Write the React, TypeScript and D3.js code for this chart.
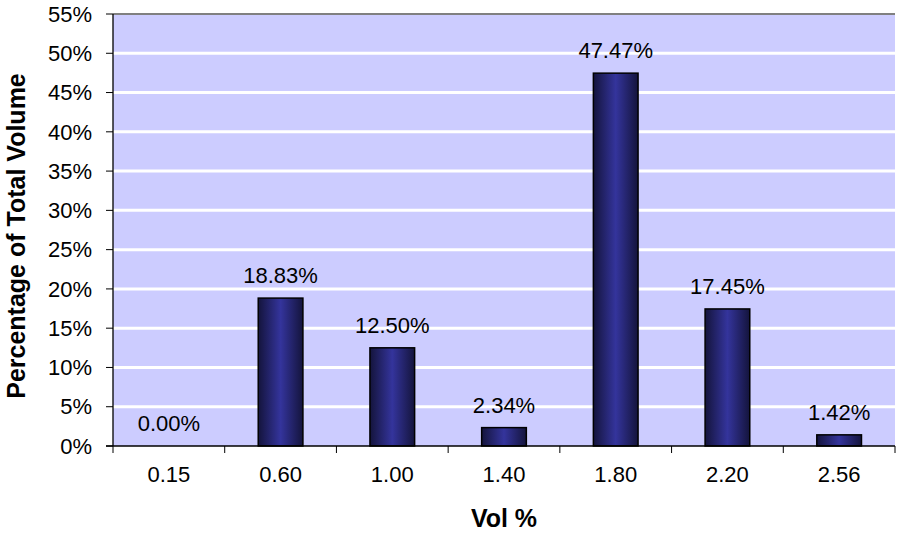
import React from "react";
import * as d3 from "d3";

const categories = ["0.15", "0.60", "1.00", "1.40", "1.80", "2.20", "2.56"];
const values = [0.0, 18.83, 12.5, 2.34, 47.47, 17.45, 1.42];
const yTicks = [0, 5, 10, 15, 20, 25, 30, 35, 40, 45, 50, 55];

const W = 897;
const H = 533;
const M = { left: 113, right: 2, top: 14, bottom: 87 };

export default function App() {
  const x = d3
    .scaleBand<string>()
    .domain(categories)
    .range([M.left, W - M.right])
    .paddingInner(0.6)
    .paddingOuter(0.3);
  const xOuter = d3.scaleBand<string>().domain(categories).range([M.left, W - M.right]);
  const y = d3.scaleLinear().domain([0, 55]).range([H - M.bottom, M.top]);
  const font = "'Liberation Sans', Arial, sans-serif";
  const fs = 22;
  const y0 = y(0);
  return (
    <svg width={W} height={H} style={{ position: "absolute", left: 0, top: 0 }} fontFamily={font}>
      <defs>
        <linearGradient id="barGrad" x1="0" x2="1" y1="0" y2="0">
          <stop offset="0" stopColor="#14143c" />
          <stop offset="0.5" stopColor="#34349c" />
          <stop offset="1" stopColor="#14143c" />
        </linearGradient>
      </defs>
      <rect x={M.left} y={M.top} width={W - M.right - M.left} height={y0 - M.top} fill="#CCCCFF" />
      {yTicks.slice(1, -1).map((t) => (
        <line key={t} x1={M.left} x2={W - M.right} y1={y(t)} y2={y(t)} stroke="#ffffff" strokeWidth={3} />
      ))}
      <line x1={M.left} x2={W - M.right} y1={y(55)} y2={y(55)} stroke="#808080" strokeWidth={2} />
      {categories.map((c, i) => (
        <rect
          key={c}
          x={x(c)}
          y={y(values[i])}
          width={x.bandwidth()}
          height={y0 - y(values[i])}
          fill="url(#barGrad)"
          stroke="#000"
          strokeWidth={1.5}
        />
      ))}
      {categories.map((c, i) => (
        <text
          key={c}
          x={(x(c) as number) + x.bandwidth() / 2}
          y={y(values[i]) - 15}
          textAnchor="middle"
          fontSize={fs}
          fill="#000"
        >
          {values[i].toFixed(2) + "%"}
        </text>
      ))}
      {/* axes */}
      <line x1={M.left} x2={M.left} y1={M.top} y2={y0} stroke="#000" strokeWidth={1.3} />
      <line x1={M.left - 7} x2={W - M.right} y1={y0} y2={y0} stroke="#000" strokeWidth={1.3} />
      {yTicks.map((t) => (
        <g key={t}>
          <line x1={M.left - 7} x2={M.left} y1={y(t)} y2={y(t)} stroke="#000" strokeWidth={1} />
          <text x={92} y={y(t)} dy="0.35em" textAnchor="end" fontSize={fs}>
            {t + "%"}
          </text>
        </g>
      ))}
      {categories.map((c) => (
        <line
          key={"t" + c}
          x1={xOuter(c)}
          x2={xOuter(c)}
          y1={y0}
          y2={y0 + 7}
          stroke="#000"
          strokeWidth={1}
        />
      ))}
      <line x1={W - M.right} x2={W - M.right} y1={y0} y2={y0 + 7} stroke="#000" strokeWidth={1} />
      {categories.map((c) => (
        <text
          key={"l" + c}
          x={(xOuter(c) as number) + xOuter.bandwidth() / 2}
          y={482}
          textAnchor="middle"
          fontSize={fs}
        >
          {c}
        </text>
      ))}
      <text x={(M.left + W - M.right) / 2} y={527} textAnchor="middle" fontSize={25} fontWeight="bold">
        Vol %
      </text>
      <text
        transform={`translate(25, 236) rotate(-90)`}
        textAnchor="middle"
        fontSize={25}
        fontWeight="bold"
      >
        Percentage of Total Volume
      </text>
    </svg>
  );
}
